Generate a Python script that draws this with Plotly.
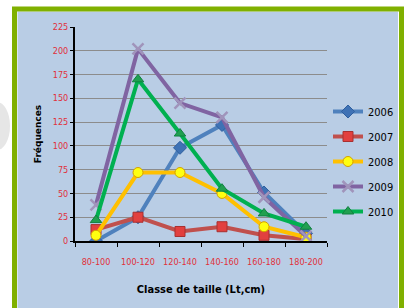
import plotly.graph_objects as go

categories = ["80-100", "100-120", "120-140", "140-160", "160-180", "180-200"]
years = ["2006", "2007", "2008", "2009", "2010"]
v2006 = [0, 25, 98, 122, 51, 8]
v2007 = [12, 25, 10, 15, 6, 2]
v2008 = [6, 72, 72, 50, 15, 4]
v2009 = [38, 202, 145, 130, 46, 5]
v2010 = [22, 170, 113, 55, 29, 15]
y_ticks = [0, 25, 50, 75, 100, 125, 150, 175, 200, 225]

series = [v2006, v2007, v2008, v2009, v2010]
line_colors = ["#4f81bd", "#c0504d", "#ffc000", "#8064a2", "#00b050"]
marker_symbols = ["diamond", "square", "circle", "x-thin", "triangle-up"]
marker_colors = ["#3f72b5", "#e2403f", "#ffff10", "#9a8ab0", "#20a050"]
marker_lines = ["#2f5f9f", "#a83030", "#d4a000", "#a094bb", "#108040"]
marker_line_w = [1, 1, 1, 2.5, 1]
marker_sizes = [10, 10, 10, 11, 10]

fig = go.Figure()
for i, (yr, vals) in enumerate(zip(years, series)):
    fig.add_trace(go.Scatter(
        x=categories, y=vals, name=yr, mode="lines+markers",
        legendgroup=yr,
        line=dict(color=line_colors[i], width=4),
        marker=dict(symbol=marker_symbols[i], size=marker_sizes[i],
                    color=marker_colors[i],
                    line=dict(color=marker_lines[i], width=marker_line_w[i])),
    ))

L, R, T, B = 75, 77, 27, 67
W, H = 404, 308
pw, ph = W - L - R, H - T - B

def px(x):
    return (x - L) / pw

def py(y):
    return (H - B - y) / ph

shapes = [
    dict(type="circle", xref="paper", yref="paper", layer="below",
         x0=px(-16), x1=px(10), y0=py(150), y1=py(102),
         fillcolor="#e6e6e6", line=dict(width=0)),
    dict(type="rect", xref="paper", yref="paper", layer="below",
         x0=px(17), x1=px(398.5), y0=py(330), y1=py(11),
         fillcolor="#b9cde5", line=dict(color="#ffffff", width=1)),
    dict(type="rect", xref="paper", yref="paper", layer="below",
         x0=px(14.5), x1=px(401.5), y0=py(335), y1=py(9),
         fillcolor="rgba(0,0,0,0)", line=dict(color="#80b000", width=5)),
]

narrow = "Liberation Sans Narrow, DejaVu Sans Condensed, Arial Narrow, sans-serif"
tick_font = dict(family=narrow, size=9, color="#e0303a")

fig.update_layout(
    width=W, height=H,
    margin=dict(l=L, r=R, t=T, b=B, autoexpand=False),
    paper_bgcolor="#ffffff",
    plot_bgcolor="rgba(0,0,0,0)",
    shapes=shapes,
    showlegend=True,
    legend=dict(x=px(328), y=py(97), xanchor="left", yanchor="top",
                bgcolor="rgba(0,0,0,0)", tracegroupgap=6,
                font=dict(family=narrow, size=11, color="#000000"),
                itemwidth=30),
    xaxis=dict(
        type="category", categoryorder="array", categoryarray=categories,
        range=[-0.5, 5.5],
        showline=True, linecolor="#000000", linewidth=2,
        ticks="outside", tickson="boundaries", ticklen=4, tickcolor="#000000", tickwidth=1,
        showgrid=False, tickfont=tick_font, tickangle=0, ticklabelstandoff=11,
        automargin=False,
        title=dict(text="<b>Classe de taille (Lt,cm)</b>",
                   font=dict(family=narrow, size=11, color="#000000"),
                   standoff=20),
    ),
    yaxis=dict(
        range=[0, 225], tickvals=y_ticks,
        showline=True, linecolor="#000000", linewidth=2,
        ticks="outside", ticklen=3, tickcolor="#000000", tickwidth=1,
        showgrid=True, gridcolor="#8c8c8c", gridwidth=1,
        zeroline=False, tickfont=tick_font, automargin=False,
        title=dict(text="<b>Fréquences</b>",
                   font=dict(family="DejaVu Sans, Arial, sans-serif", size=9, color="#000000"),
                   standoff=10),
    ),
)

fig.write_html("out.html",
               config={"displayModeBar": False},
               post_script="document.body.style.margin='0';document.body.style.overflow='hidden';")
